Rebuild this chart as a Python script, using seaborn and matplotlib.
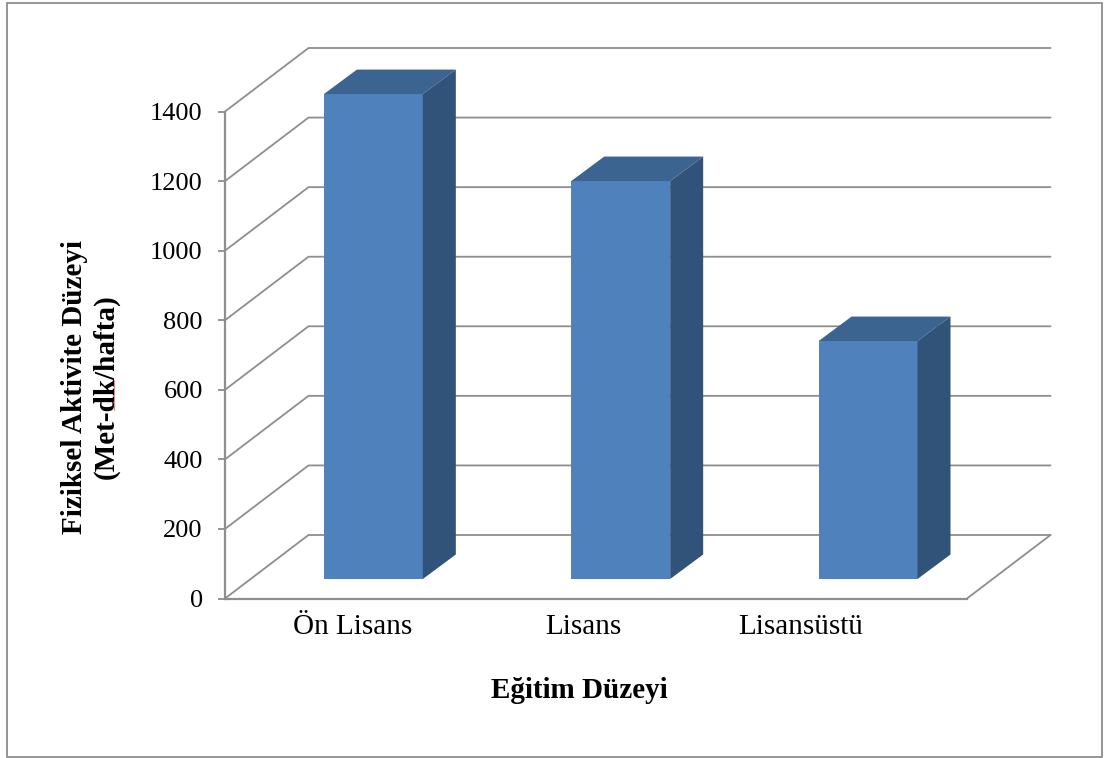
import matplotlib
matplotlib.use('Agg')
import matplotlib.pyplot as plt
from matplotlib.patches import Polygon, Rectangle
from matplotlib.transforms import Affine2D
import numpy as np
import seaborn as sns

# Values
categories = ['Ön Lisans', 'Lisans', 'Lisansüstü']
activity = [1394, 1144, 684]
y_ticks = [0, 200, 400, 600, 800, 1000, 1200, 1400]

W, H = 1105, 758
sns.set_theme(style='white')
plt.rcParams['font.family'] = ['Liberation Serif', 'DejaVu Serif']

fig = plt.figure(figsize=(W / 100, H / 100), dpi=100)
ax = fig.add_axes([225 / W, 1 - 598.5 / H, 742 / W, 487 / H])

sns.barplot(x=categories, y=activity, color='#4F81BD', saturation=1, width=0.4, ax=ax, zorder=3)
ax.set_xlim(-0.5, 2.5)
ax.set_ylim(0, 1400)
fig.canvas.draw()

grey = '#8E8E8E'
wall_shift = (83.5, 63.5)   # pixels from the front plane to the back wall
bar_shift = (24.7, 19.5)    # bars stand this far into the floor
bar_depth = (33, 24.5)


def px(x, y, shift=(0, 0)):
    p = ax.transData.transform((x, y))
    return (p[0] + shift[0], p[1] + shift[1])


# Walls and floor lines, behind the bars
for v in y_ticks:
    pts = [px(-0.5, v), px(-0.5, v, wall_shift), px(2.5, v, wall_shift)]
    fig.add_artist(plt.Line2D(*zip(*pts), transform=None, color=grey, lw=1.3, zorder=1))
pts = [px(2.5, 0), px(2.5, 0, wall_shift)]
fig.add_artist(plt.Line2D(*zip(*pts), transform=None, color=grey, lw=1.3, zorder=1))

ax.patch.set_visible(False)
ax.set_zorder(2)

# Move the front faces back and add the top and side faces
for bar in ax.patches:
    x0, x1 = bar.get_x(), bar.get_x() + bar.get_width()
    top = bar.get_height()
    bar.set_transform(ax.transData + Affine2D().translate(*bar_shift))
    bar.set_clip_on(False)
    bar.set_linewidth(0)
    fl = px(x0, top, bar_shift)
    fr = px(x1, top, bar_shift)
    br = px(x1, 0, bar_shift)
    deep = lambda p: (p[0] + bar_depth[0], p[1] + bar_depth[1])
    ax.add_artist(Polygon([fl, fr, deep(fr), deep(fl)], transform=None, fc='#3C6491', lw=0, zorder=3, clip_on=False))
    ax.add_artist(Polygon([fr, br, deep(br), deep(fr)], transform=None, fc='#325379', lw=0, zorder=3, clip_on=False))

# Axes
sns.despine(ax=ax, top=True, right=False)
ax.spines['right'].set_visible(False)
for name in ['left', 'bottom']:
    ax.spines[name].set_color(grey)
    ax.spines[name].set_linewidth(1.6)
ax.set_yticks(y_ticks)
ax.tick_params(axis='y', direction='out', length=5, width=1.3, color=grey, pad=11,
               left=True, labelsize=19, labelcolor='black')
ax.tick_params(axis='x', bottom=False, pad=5.5, labelsize=21, labelcolor='black')

# The category labels sit unevenly in the original
label_nudge = [4, -13, -43]
for lab, dx in zip(ax.get_xticklabels(), label_nudge):
    lab.set_transform(lab.get_transform() + Affine2D().translate(dx, 0))

ax.set_xlabel('Eğitim Düzeyi', fontsize=21, fontweight='bold', color='black')
ax.xaxis.set_label_coords((579 - 225) / 742, (598.5 - 691) / 487)
ax.xaxis.label.set_va('center')
ax.set_ylabel('Fiziksel Aktivite Düzeyi\n(Met-dk/hafta)', fontsize=21, fontweight='bold',
              color='black', linespacing=1.2)
ax.yaxis.set_label_coords((90 - 225) / 742, (598.5 - 387) / 487)
ax.yaxis.label.set_va('center')
ax.yaxis.label.set_ha('center')

# Spell-check underline left in the screenshot
fig.add_artist(plt.Line2D([113.5 / W, 113.5 / W], [1 - 380 / H, 1 - 410 / H], color='#E58A8A', lw=0.8))

# Outer frame of the chart object
fig.add_artist(Rectangle((7 / W, 1 - 757 / H), (1102 - 7) / W, (757 - 2.5) / H, transform=fig.transFigure,
                         fill=False, ec=grey, lw=1.3))

fig.savefig('out.png', dpi=100)
